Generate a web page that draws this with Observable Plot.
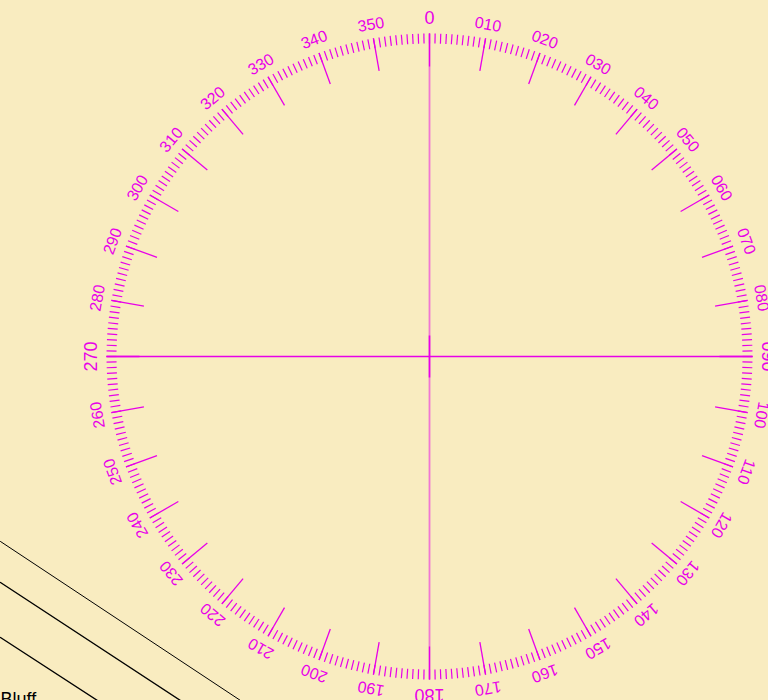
<!DOCTYPE html>
<html>
<head>
<meta charset="utf-8">
<script src="https://cdn.jsdelivr.net/npm/d3@7"></script>
<script src="https://cdn.jsdelivr.net/npm/@observablehq/plot@0.6"></script>
<style>
  html, body { margin: 0; padding: 0; background: #f9ecc0; overflow: hidden; }
  #chart svg { display: block; }
</style>
</head>
<body>
<div id="chart"></div>
<script>
// Compass rose: one tick per degree, a longer tick and label every 10 degrees
const degreeTicks = d3.range(0, 360, 1);
const majorAngles = [0, 10, 20, 30, 40, 50, 60, 70, 80, 90, 100, 110, 120, 130, 140, 150, 160, 170,
                     180, 190, 200, 210, 220, 230, 240, 250, 260, 270, 280, 290, 300, 310, 320, 330, 340, 350];
const tickLabels = ["0", "010", "020", "030", "040", "050", "060", "070", "080", "090", "100", "110",
                    "120", "130", "140", "150", "160", "170", "180", "190", "200", "210", "220", "230",
                    "240", "250", "260", "270", "280", "290", "300", "310", "320", "330", "340", "350"];
const cardinalAngles = [0, 90, 180, 270];

// Depth contours in the lower-left corner (chart units, y downwards)
const contourA = [[0, 541], [240, 700], [260, 713]];
const contourB = [[0, 582], [180, 700], [200, 713]];
const contourC = [[0, 637], [97, 700], [117, 713]];
const placeNames = [{x: 0, y: 700, name: "Bluff"}];

const cx = 429, cy = 356;       // compass centre
const rOuter = 323, rMinor = 313, rMajor = 290, rLabel = 337;
const magenta = "#e800e8";
const rad = a => a * Math.PI / 180;
const px = (a, r) => cx + r * Math.sin(rad(a));
const py = (a, r) => cy - r * Math.cos(rad(a));

const labelData = majorAngles.map((a, i) => ({angle: a, label: tickLabels[i], cardinal: cardinalAngles.includes(a)}));

const chart = Plot.plot({
  width: 768,
  height: 700,
  margin: 0,
  x: {domain: [0, 768], range: [0, 768], axis: null},
  y: {domain: [0, 700], range: [0, 700], axis: null},
  style: {background: "#f9ecc0", fontFamily: "Liberation Sans, Arial, sans-serif"},
  marks: [
    // contours
    Plot.line(contourA, {x: d => d[0], y: d => d[1], stroke: "#000", strokeWidth: 1, clip: true}),
    Plot.line(contourB, {x: d => d[0], y: d => d[1], stroke: "#000", strokeWidth: 1.4, clip: true}),
    Plot.line(contourC, {x: d => d[0], y: d => d[1], stroke: "#000", strokeWidth: 1.4, clip: true}),
    Plot.text(placeNames, {x: "x", y: "y", text: "name", textAnchor: "start", lineAnchor: "top", dy: -8, fontSize: 18, fill: "#000"}),
    // diameters
    Plot.link([0], {x1: () => px(0, rOuter), y1: () => py(0, rOuter), x2: () => px(180, rOuter), y2: () => py(180, rOuter),
      stroke: magenta, strokeWidth: 1.8, strokeOpacity: 0.5}),
    Plot.link([90], {x1: () => px(90, rOuter), y1: () => py(90, rOuter), x2: () => px(270, rOuter), y2: () => py(270, rOuter),
      stroke: magenta, strokeWidth: 1.6}),
    // centre cross
    Plot.link([0], {x1: () => cx, y1: () => cy - 21, x2: () => cx, y2: () => cy + 21, stroke: magenta, strokeWidth: 1.6}),
    // degree ticks
    Plot.link(degreeTicks, {x1: a => px(a, rOuter), y1: a => py(a, rOuter), x2: a => px(a, rMinor), y2: a => py(a, rMinor),
      stroke: magenta, strokeWidth: 1.2}),
    // ten-degree ticks
    Plot.link(majorAngles, {x1: a => px(a, rOuter), y1: a => py(a, rOuter), x2: a => px(a, rMajor), y2: a => py(a, rMajor),
      stroke: magenta, strokeWidth: 1.3}),
    // labels
    Plot.text(labelData.filter(d => !d.cardinal), {x: d => px(d.angle, rLabel), y: d => py(d.angle, rLabel), text: "label",
      rotate: d => d.angle, fontSize: 16, fill: magenta, textAnchor: "middle", lineAnchor: "middle"}),
    Plot.text(labelData.filter(d => d.cardinal), {x: d => px(d.angle, rLabel + 1), y: d => py(d.angle, rLabel + 1), text: "label",
      rotate: d => d.angle, fontSize: 18, fill: magenta, textAnchor: "middle", lineAnchor: "middle"})
  ]
});
document.getElementById("chart").appendChild(chart);
</script>
</body>
</html>
